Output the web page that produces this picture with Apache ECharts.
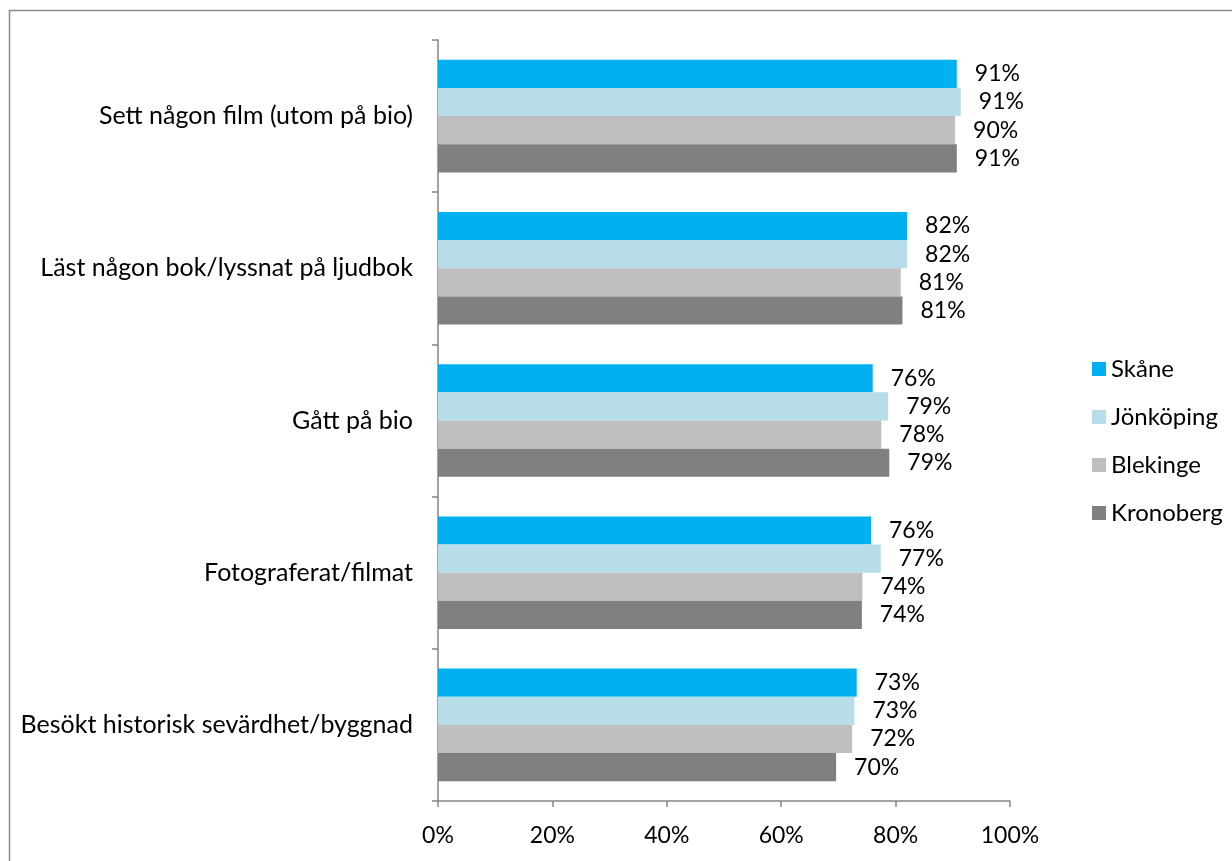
<!DOCTYPE html>
<html>
<head>
<meta charset="utf-8">
<script src="https://cdn.jsdelivr.net/npm/echarts@6/dist/echarts.min.js"></script>
<style>
html,body{margin:0;padding:0;background:#fff;}
#chart{width:1232px;height:861px;}
</style>
</head>
<body>
<div id="chart"></div>
<script>
const categories = [
  'Sett någon film (utom på bio)',
  'Läst någon bok/lyssnat på ljudbok',
  'Gått på bio',
  'Fotograferat/filmat',
  'Besökt historisk sevärdhet/byggnad'
];
const seriesNames = ['Skåne', 'Jönköping', 'Blekinge', 'Kronoberg'];
const skane = [90.7, 82.0, 76.0, 75.7, 73.2];
const jonkoping = [91.4, 82.0, 78.7, 77.4, 72.8];
const blekinge = [90.4, 80.9, 77.5, 74.2, 72.4];
const kronoberg = [90.7, 81.2, 78.9, 74.1, 69.6];
const xTicks = [0, 20, 40, 60, 80, 100];
const colors = ['#00B0F0', '#B7DEE8', '#BFBFBF', '#808080'];

const allValues = [skane, jonkoping, blekinge, kronoberg];
const FONT = 'Lato';
const chart = echarts.init(document.getElementById('chart'), null, {renderer: 'canvas'});
chart.setOption({
  backgroundColor: '#fff',
  animation: false,
  textStyle: {fontFamily: FONT},
  graphic: [{
    type: 'rect',
    shape: {x: 9.5, y: 10.5, width: 1240, height: 900},
    style: {fill: 'none', stroke: '#8a8a8a', lineWidth: 1.5},
    silent: true
  }],
  grid: {left: 438, right: 222, top: 40, bottom: 60, containLabel: false},
  legend: {
    orient: 'vertical',
    left: 1087,
    top: 352,
    itemWidth: 14,
    itemHeight: 14,
    itemGap: 24,
    icon: 'rect',
    textStyle: {fontFamily: FONT, fontSize: 24, lineHeight: 24, color: '#000'},
    data: seriesNames
  },
  xAxis: {
    type: 'value',
    min: xTicks[0],
    max: xTicks[xTicks.length - 1],
    interval: 20,
    axisLine: {show: true, lineStyle: {color: '#868686', width: 1.5}},
    axisTick: {show: true, length: 6, lineStyle: {color: '#868686', width: 1.5}},
    splitLine: {show: false},
    axisLabel: {formatter: v => v + '%', fontFamily: FONT, fontSize: 23, color: '#000', margin: 23}
  },
  yAxis: {
    type: 'category',
    data: categories,
    inverse: true,
    axisLine: {show: true, lineStyle: {color: '#868686', width: 1.5}},
    axisTick: {show: true, length: 6, lineStyle: {color: '#868686', width: 1.5}},
    axisLabel: {fontFamily: FONT, fontSize: 25, color: '#000', margin: 25}
  },
  series: seriesNames.map((name, i) => ({
    name: name,
    type: 'bar',
    data: allValues[i],
    barGap: '0%',
    barCategoryGap: '26%',
    itemStyle: {color: colors[i]},
    label: {
      show: true,
      position: 'right',
      distance: 18,
      formatter: p => Math.round(p.value) + '%',
      fontFamily: FONT,
      fontSize: 23,
      color: '#000'
    }
  }))
});
</script>
</body>
</html>
